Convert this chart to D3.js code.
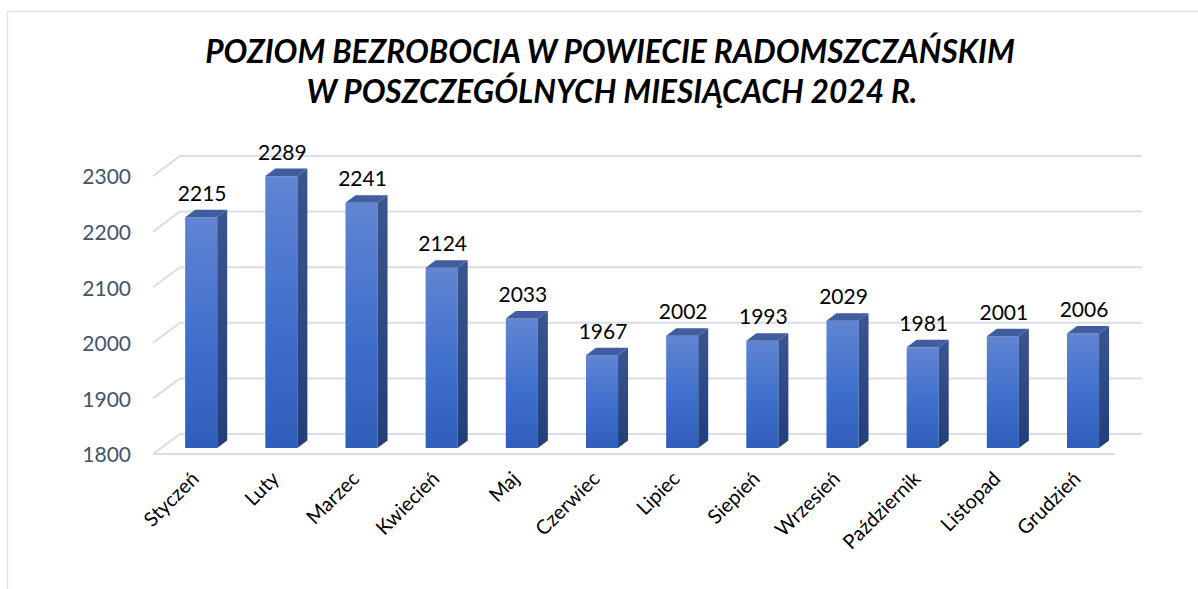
<!DOCTYPE html>
<html>
<head>
<meta charset="utf-8">
<script src="https://cdn.jsdelivr.net/npm/d3@7"></script>
<style>
  body { margin: 0; background: #fff; }
  svg { display: block; }
</style>
</head>
<body>
<div id="chart"></div>
<script>
const months = ["Styczeń", "Luty", "Marzec", "Kwiecień", "Maj", "Czerwiec", "Lipiec",
  "Siepień", "Wrzesień", "Październik", "Listopad", "Grudzień"];
const values = [2215, 2289, 2241, 2124, 2033, 1967, 2002, 1993, 2029, 1981, 2001, 2006];
const yTicks = [1800, 1900, 2000, 2100, 2200, 2300];
const titleLines = ["POZIOM BEZROBOCIA W POWIECIE RADOMSZCZAŃSKIM", "W POSZCZEGÓLNYCH MIESIĄCACH 2024 R."];

const W = 1198, H = 589;
const floorY = 454;          // front edge of the floor
const depth = {dx: 27, dy: -20};  // front -> back wall
const barF = 0.3;            // depth position of the bar fronts
const barDepth = {dx: 10, dy: -7.5};

let svg = d3.select("#chart").append("svg")
    .attr("width", W)
    .attr("height", H);

// frame
svg.append("rect")
    .attr("x", 7.5).attr("y", 11.5)
    .attr("width", W).attr("height", H)
    .attr("fill", "none")
    .attr("stroke", "#dfe3ea")
    .attr("stroke-width", 1.5);

let defs = svg.append("defs");
let gFront = defs.append("linearGradient").attr("id", "front")
    .attr("x1", 0).attr("y1", 0).attr("x2", 0).attr("y2", 1);
gFront.append("stop").attr("offset", "0%").attr("stop-color", "#6085d2");
gFront.append("stop").attr("offset", "55%").attr("stop-color", "#3f6fcc");
gFront.append("stop").attr("offset", "100%").attr("stop-color", "#2f5fbb");
let gSide = defs.append("linearGradient").attr("id", "side")
    .attr("x1", 0).attr("y1", 0).attr("x2", 0).attr("y2", 1);
gSide.append("stop").attr("offset", "0%").attr("stop-color", "#3a5590");
gSide.append("stop").attr("offset", "100%").attr("stop-color", "#223f7a");

// scales
let x = d3.scaleBand()
    .domain(months)
    .range([153, 1115])
    .paddingInner(0.6)
    .paddingOuter(0.3);

let y = d3.scaleLinear()
    .domain([1800, 2300])
    .range([0, 278]);

// back wall gridlines + side wall slants
let grid = svg.append("g").attr("stroke", "#d9dde6").attr("stroke-width", 2).attr("fill", "none");
yTicks.forEach(function(t) {
    let by = floorY + depth.dy - y(t);
    grid.append("line")
        .attr("x1", x.range()[0] + depth.dx).attr("x2", x.range()[1] + depth.dx)
        .attr("y1", by).attr("y2", by);
    grid.append("line")
        .attr("x1", x.range()[0]).attr("y1", by - depth.dy)
        .attr("x2", x.range()[0] + depth.dx).attr("y2", by);
});
// floor front edge
grid.append("line")
    .attr("x1", x.range()[0]).attr("x2", x.range()[1])
    .attr("y1", floorY).attr("y2", floorY);

// y axis labels
svg.append("g")
    .selectAll("text")
    .data(yTicks)
    .enter().append("text")
    .attr("x", 131)
    .attr("y", function(d) { return floorY - y(d); })
    .attr("dy", "0.4em")
    .attr("text-anchor", "end")
    .attr("font-family", "Lato, sans-serif")
    .attr("font-size", 21)
    .attr("fill", "#44546a")
    .text(function(d) { return d; });

// bars
let bx0 = depth.dx * barF, by0 = floorY + depth.dy * barF;
let bars = svg.append("g")
    .selectAll("g")
    .data(months.map(function(m, i) { return {m: m, v: values[i]}; }))
    .enter().append("g");

bars.each(function(d) {
    let g = d3.select(this);
    let left = x(d.m) + bx0, w = x.bandwidth();
    let top = by0 - y(d.v), bottom = by0;
    let dx = barDepth.dx, dy = barDepth.dy;
    g.append("rect")
        .attr("x", left).attr("y", top)
        .attr("width", w).attr("height", bottom - top)
        .attr("fill", "url(#front)");
    g.append("path")
        .attr("d", "M" + (left + w) + "," + top + "L" + (left + w + dx) + "," + (top + dy) +
            "L" + (left + w + dx) + "," + (bottom + dy) + "L" + (left + w) + "," + bottom + "Z")
        .attr("fill", "url(#side)");
    g.append("path")
        .attr("d", "M" + left + "," + top + "L" + (left + dx) + "," + (top + dy) +
            "L" + (left + w + dx) + "," + (top + dy) + "L" + (left + w) + "," + top + "Z")
        .attr("fill", "#3f5d9f");
    g.append("text")
        .attr("x", left + w / 2 + 1)
        .attr("y", top + dy - 9)
        .attr("text-anchor", "middle")
        .attr("font-family", "Lato, sans-serif")
        .attr("font-size", 21)
        .attr("fill", "#000")
        .text(d.v);
});

// x labels
svg.append("g")
    .selectAll("text")
    .data(months)
    .enter().append("text")
    .attr("text-anchor", "end")
    .attr("font-family", "Lato, sans-serif")
    .attr("font-size", 20)
    .attr("fill", "#000")
    .attr("transform", function(d) {
        return "translate(" + (x(d) + x.bandwidth() / 2 + 7) + ",480) rotate(-45)";
    })
    .text(function(d) { return d; });

// title
let title = svg.append("g")
    .attr("font-family", "Lato, sans-serif")
    .attr("font-weight", "bold")
    .attr("font-style", "italic")
    .attr("font-size", 30)
    .attr("text-anchor", "middle")
    .attr("fill", "#000");
let t1 = title.append("text").attr("x", 610).attr("y", 63).text(titleLines[0]);
title.append("text").attr("x", 612).attr("y", 103).text(titleLines[1]);
// size the title to the width of the original
let len = t1.node().getComputedTextLength();
title.attr("font-size", 30 * 810 / len);
</script>
</body>
</html>
